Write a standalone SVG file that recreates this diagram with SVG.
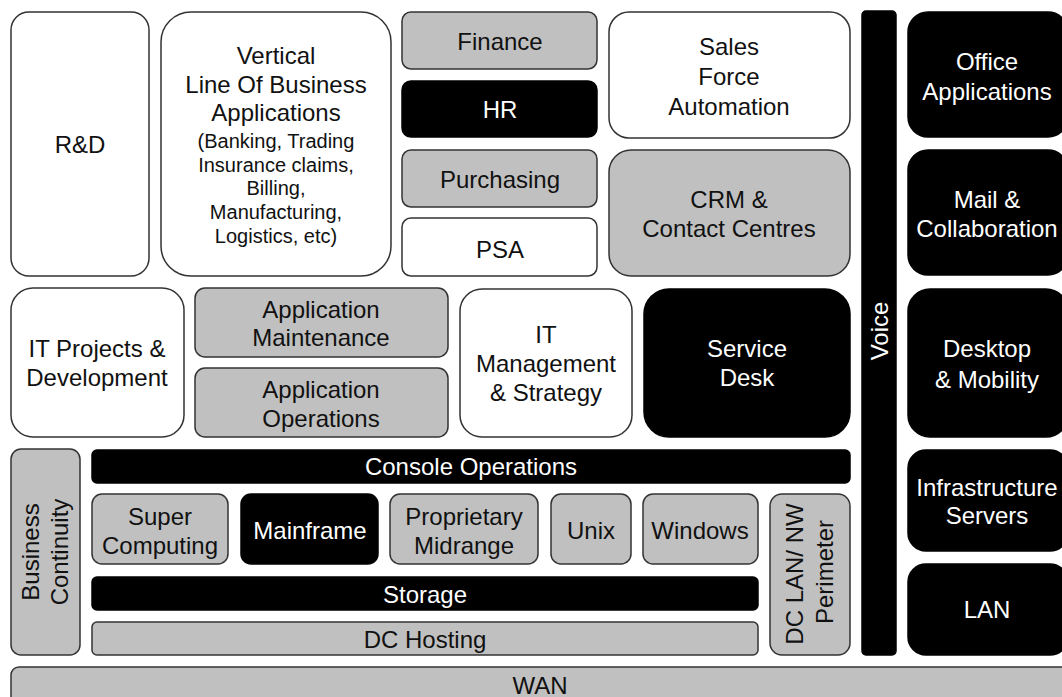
<svg xmlns="http://www.w3.org/2000/svg" width="1062" height="697" viewBox="0 0 1062 697">
<style>
text{font-family:"Liberation Sans",Arial,Helvetica,sans-serif;font-size:24px;text-anchor:middle;fill:#111}
.s{font-size:20px}
.w{fill:#fff}
.k{fill:#000;stroke:#000;stroke-width:1.5}
.g{fill:#c0c0c0;stroke:#333;stroke-width:1.5}
.n{fill:#fff;stroke:#333;stroke-width:1.5}
</style>
<rect width="1062" height="697" fill="#fff"/>
<g id="rd"><rect class="n" x="11" y="12" width="138" height="264" rx="18"/><text x="80" y="153">R&amp;D</text></g>
<g id="lob"><rect class="n" x="161" y="12" width="230" height="264" rx="30"/>
<text x="276" y="64">Vertical</text><text x="276" y="93">Line Of Business</text><text x="276" y="121">Applications</text>
<text class="s" x="276" y="148">(Banking, Trading</text><text class="s" x="276" y="172">Insurance claims,</text><text class="s" x="276" y="195">Billing,</text><text class="s" x="276" y="219">Manufacturing,</text><text class="s" x="276" y="243">Logistics, etc)</text></g>
<g id="finance"><rect class="g" x="402" y="12" width="195" height="57" rx="9"/><text x="500" y="50">Finance</text></g>
<g id="hr"><rect class="k" x="402" y="81" width="195" height="56" rx="9"/><text class="w" x="500" y="118">HR</text></g>
<g id="purchasing"><rect class="g" x="402" y="150" width="195" height="57" rx="9"/><text x="500" y="188">Purchasing</text></g>
<g id="psa"><rect class="n" x="402" y="218" width="195" height="58" rx="9"/><text x="500" y="258">PSA</text></g>
<g id="sfa"><rect class="n" x="609" y="12" width="241" height="126" rx="20"/><text x="729" y="55">Sales</text><text x="729" y="85">Force</text><text x="729" y="115">Automation</text></g>
<g id="crm"><rect class="g" x="609" y="150" width="241" height="126" rx="22"/><text x="729" y="208">CRM &amp;</text><text x="729" y="237">Contact Centres</text></g>
<g id="voice"><rect class="k" x="862" y="11" width="34" height="644" rx="4"/><text class="w" transform="translate(888,331) rotate(-90)">Voice</text></g>
<g id="office"><rect class="k" x="908" y="12" width="160" height="125" rx="20"/><text class="w" x="987" y="70">Office</text><text class="w" x="987" y="100">Applications</text></g>
<g id="mail"><rect class="k" x="908" y="150" width="160" height="125" rx="20"/><text class="w" x="987" y="208">Mail &amp;</text><text class="w" x="987" y="237">Collaboration</text></g>
<g id="desktop"><rect class="k" x="908" y="289" width="160" height="148" rx="22"/><text class="w" x="987" y="357">Desktop</text><text class="w" x="987" y="388">&amp; Mobility</text></g>
<g id="infra"><rect class="k" x="908" y="450" width="160" height="101" rx="18"/><text class="w" x="987" y="496">Infrastructure</text><text class="w" x="987" y="524">Servers</text></g>
<g id="lan"><rect class="k" x="908" y="564" width="160" height="91" rx="18"/><text class="w" x="987" y="618">LAN</text></g>
<g id="itprojects"><rect class="n" x="11" y="288" width="173" height="149" rx="22"/><text x="97" y="357">IT Projects &amp;</text><text x="97" y="386">Development</text></g>
<g id="appmaint"><rect class="g" x="195" y="288" width="253" height="69" rx="10"/><text x="321" y="318">Application</text><text x="321" y="346">Maintenance</text></g>
<g id="appops"><rect class="g" x="195" y="368" width="253" height="69" rx="10"/><text x="321" y="398">Application</text><text x="321" y="427">Operations</text></g>
<g id="itmgmt"><rect class="n" x="460" y="289" width="172" height="148" rx="22"/><text x="546" y="343">IT</text><text x="546" y="372">Management</text><text x="546" y="401">&amp; Strategy</text></g>
<g id="servicedesk"><rect class="k" x="644" y="289" width="206" height="148" rx="25"/><text class="w" x="747" y="357">Service</text><text class="w" x="747" y="386">Desk</text></g>
<g id="bc"><rect class="g" x="11" y="449" width="69" height="206" rx="10"/><text transform="translate(39,552) rotate(-90)">Business</text><text transform="translate(68,552) rotate(-90)">Continuity</text></g>
<g id="console"><rect class="k" x="92" y="450" width="758" height="33" rx="5"/><text class="w" x="471" y="475">Console Operations</text></g>
<g id="super"><rect class="g" x="92" y="494" width="136" height="70" rx="10"/><text x="160" y="525">Super</text><text x="160" y="554">Computing</text></g>
<g id="mainframe"><rect class="k" x="241" y="494" width="137" height="70" rx="10"/><text class="w" x="310" y="539">Mainframe</text></g>
<g id="midrange"><rect class="g" x="390" y="494" width="148" height="70" rx="10"/><text x="464" y="525">Proprietary</text><text x="464" y="554">Midrange</text></g>
<g id="unix"><rect class="g" x="551" y="494" width="80" height="70" rx="10"/><text x="591" y="539">Unix</text></g>
<g id="windows"><rect class="g" x="643" y="494" width="115" height="70" rx="10"/><text x="700" y="539">Windows</text></g>
<g id="dclan"><rect class="g" x="770" y="494" width="80" height="161" rx="12"/><text transform="translate(803,574) rotate(-90)">DC LAN/ NW</text><text transform="translate(833,572) rotate(-90)">Perimeter</text></g>
<g id="storage"><rect class="k" x="92" y="577" width="666" height="33" rx="5"/><text class="w" x="425" y="603">Storage</text></g>
<g id="dchosting"><rect class="g" x="92" y="622" width="666" height="33" rx="5"/><text x="425" y="648">DC Hosting</text></g>
<g id="wan"><rect class="g" x="11" y="667" width="1070" height="50" rx="8"/><text x="540" y="694">WAN</text></g>
<g id="connectors"></g>
</svg>
